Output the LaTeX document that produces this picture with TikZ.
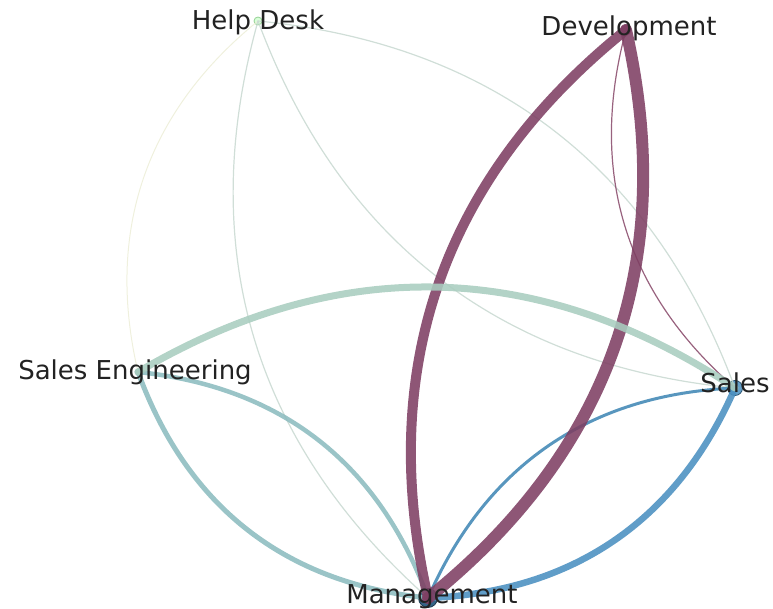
\documentclass[tikz,border=0pt]{standalone}
\usepackage{fontspec}
\setmainfont{DejaVu Sans}
\definecolor{labelgray}{HTML}{222222}
\definecolor{devpurple}{HTML}{7E3F63}
\definecolor{devthin}{HTML}{8A4C6C}
\definecolor{mintgreen}{HTML}{A9CDBF}
\definecolor{tealgray}{HTML}{8CBCBF}
\definecolor{salesblue}{HTML}{4A8FC0}
\definecolor{salesblueB}{HTML}{4188B5}
\definecolor{paleline}{HTML}{C9D9D2}
\definecolor{faintline}{HTML}{EDEED8}
\begin{document}
\begin{tikzpicture}[x=1pt,y=-1pt,
  vertex/.style={circle,inner sep=0pt,minimum size=#1},
  lbl/.style={anchor=base,font=\fontsize{26}{31}\selectfont,text=labelgray,inner sep=0pt},
  link/.style={line cap=round,draw opacity=0.88},
  curl/.style={bend right=32}
]
\useasboundingbox (0,0) rectangle (773,609);

% vertices
\node[vertex=8pt,fill=green!15!white,draw=green!40!gray!60,line width=0.8pt] (hd) at (258,21) {};
\node[vertex=11pt,fill=devpurple] (dev) at (626,30) {};
\node[vertex=7pt,fill=tealgray] (se) at (138,372) {};
\node[vertex=15pt,fill=salesblue!85!white,draw=salesblue!60!black,line width=0.8pt] (sl) at (735,388) {};
\node[vertex=19pt,fill=salesblue!70!black,draw=salesblue!40!black,line width=0.8pt] (mg) at (428,598) {};

% thin links
\draw[link,faintline,line width=1pt] (hd.center) to[curl] (se.center);
\draw[link,paleline,line width=1.2pt] (hd.center) to[curl] (mg.center);
\draw[link,paleline,line width=1.2pt] (hd.center) to[curl] (sl.center);
\draw[link,paleline,line width=1.2pt] (sl.center) to[curl] (hd.center);
\draw[link,devthin,line width=1.2pt] (dev.center) to[curl] (sl.center);

% heavier links
\draw[link,tealgray,line width=5pt] (se.center) to[curl] (mg.center);
\draw[link,tealgray,line width=4.5pt] (mg.center) to[curl] (se.center);
\draw[link,salesblueB,line width=3pt] (sl.center) to[curl] (mg.center);
\draw[link,salesblue,line width=6.5pt] (mg.center) to[curl] (sl.center);
\draw[link,devpurple,line width=10pt] (dev.center) to[curl] (mg.center);
\draw[link,devpurple,line width=12pt] (mg.center) to[curl] (dev.center);
\draw[link,mintgreen,line width=7pt] (sl.center) to[curl] (se.center);

% labels
\node[lbl] (hdl) at (258,30) {Help Desk};
\node[lbl] (devl) at (629,36) {Development};
\node[lbl] (sel) at (135,379) {Sales Engineering};
\node[lbl] (sll) at (735,392) {Sales};
\node[lbl] (mgl) at (432,603) {Management};
\end{tikzpicture}
\end{document}
